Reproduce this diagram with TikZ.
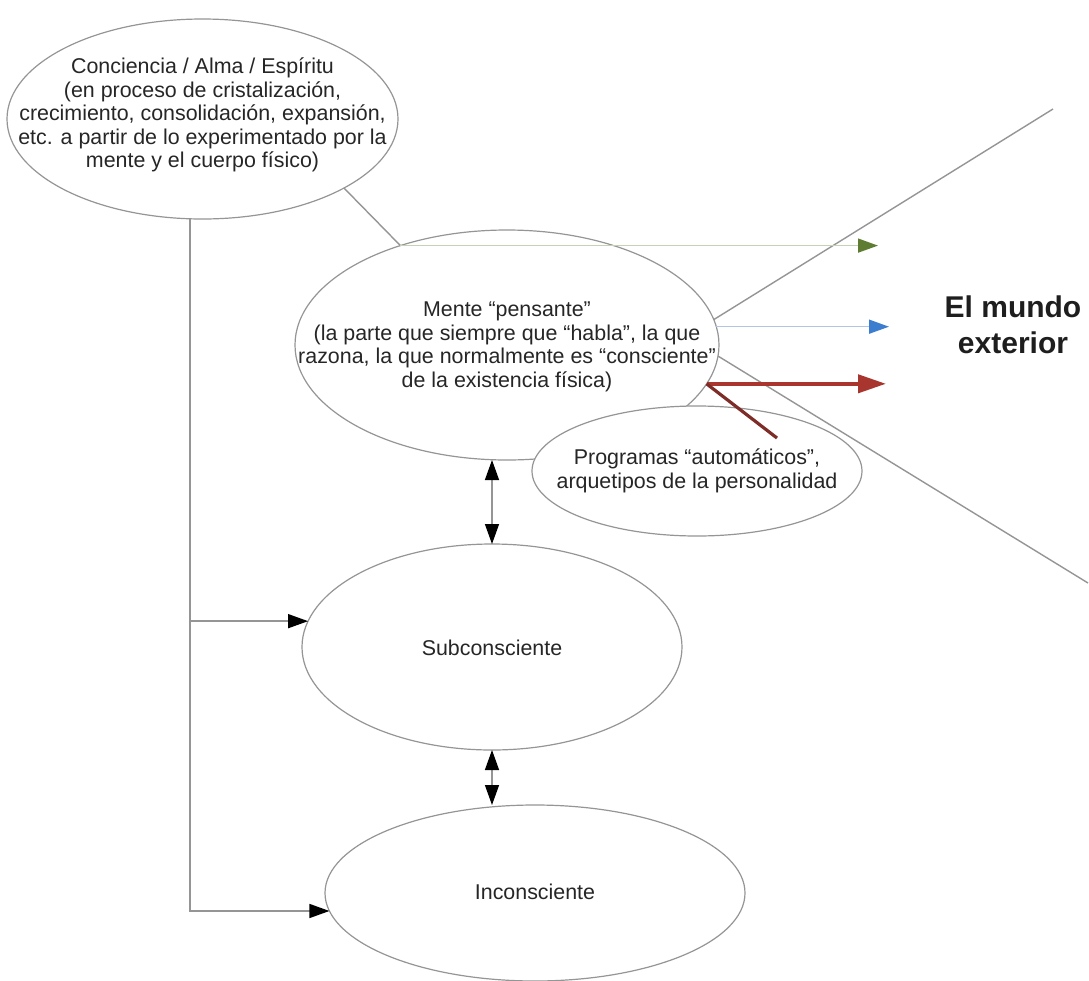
\documentclass[tikz,border=0pt]{standalone}
\usepackage{fontspec}
\setmainfont{Liberation Sans}
\usetikzlibrary{shapes.geometric,arrows.meta}
\definecolor{edge}{HTML}{959595}
\definecolor{ink}{HTML}{262626}
\definecolor{leaf}{HTML}{5E7D32}
\definecolor{leafline}{HTML}{C6D2B8}
\definecolor{sky}{HTML}{3C7DD0}
\definecolor{skyline}{HTML}{B2C6E4}
\definecolor{blood}{HTML}{A8362E}
\definecolor{bloodline}{HTML}{7E2C28}
\tikzset{
  >={Triangle[length=10pt,width=7pt,color=black]},
  x=0.5pt, y=-0.5pt,
}
\tikzstyle{bubble}=[ellipse,draw=edge,fill=white,line width=0.6pt,inner sep=0pt,outer sep=0pt]
\tikzstyle{txt}=[font=\fontsize{10.7}{11.75}\selectfont,text=ink,align=center]
\tikzstyle{link}=[draw=edge,line width=0.7pt]
\tikzstyle{every node}=[font=\fontsize{10.7}{11.75}\selectfont]

\begin{document}
\begin{tikzpicture}
    \useasboundingbox (0,0) rectangle (1089,981);
    % ellipses
    \node[bubble,minimum width=195.5pt,minimum height=100pt] (alma) at (202.5,119) {};
    \node[txt] (almatxt) at (202.5,115) {Conciencia / Alma / Espíritu\\(en proceso de cristalización,\\crecimiento, consolidación, expansión,\\etc. a partir de lo experimentado por la\\mente y el cuerpo físico)};
    \node[bubble,minimum width=212pt,minimum height=115pt] (mente) at (507,345) {};
    \node[txt] (mentetxt) at (507,347) {Mente “pensante”\\(la parte que siempre que “habla”, la que\\razona, la que normalmente es “consciente”\\de la existencia física)};
    \node[bubble,minimum width=165pt,minimum height=65pt] (prog) at (697,471) {};
    \node[txt] (progtxt) at (697,471) {Programas “automáticos”,\\arquetipos de la personalidad};
    \node[bubble,minimum width=190pt,minimum height=103pt] (sub) at (492,647) {};
    \node[txt] (subtxt) at (492,648) {Subconsciente};
    \node[bubble,minimum width=210pt,minimum height=88pt] (incon) at (535,893) {};
    \node[txt] (incontxt) at (535,892) {Inconsciente};
    \node[font=\fontsize{15}{18}\selectfont\bfseries,text=ink!80!black,align=center] (mundo) at (1013,325) {El mundo\\exterior};

    % free ends
    \coordinate (gtip) at (878,247);
    \coordinate (btip) at (889,328);
    \coordinate (rtip) at (886,382);
    \coordinate (hi) at (1053,109);
    \coordinate (lo) at (1088,583);
    \coordinate (poke) at (777,438);
    \coordinate (trunk) at (190,219);

    % connectors
    \draw[link] (alma.-26) -- (mente.137);
    \draw[link] (mente.7) -- (hi);
    \draw[link] (mente.-3) -- (lo);
    \draw[leafline,line width=0.8pt,-{Triangle[length=10pt,width=7pt,color=leaf]}] (mente.137) -- (mente.137 -| gtip);
    \draw[skyline,line width=0.8pt,-{Triangle[length=10pt,width=7pt,color=sky]}] (mente.5) -- (mente.5 -| btip);
    \draw[blood,line width=2pt,-{Triangle[length=14pt,width=9pt]}] (mente.-11) -- (mente.-11 -| rtip);
    \draw[bloodline,line width=1.6pt] (mente.-11) -- (poke);
    \draw[link,<->] (sub.north) -- (sub.north |- mente.south);
    \draw[link,<->] (sub.south) -- (sub.south |- incon.north);
    \draw[link,->] (trunk) -- (trunk |- incon.185) -- (incon.185);
    \draw[link,->] (trunk |- sub.172) -- (sub.172);
\end{tikzpicture}
\end{document}
